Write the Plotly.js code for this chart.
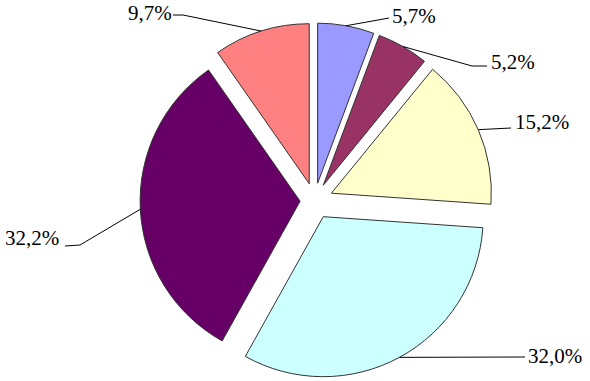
<!DOCTYPE html>
<html><head><meta charset="utf-8">
<script src="https://cdn.plot.ly/plotly-3.0.1.min.js"></script>
<style>html,body{margin:0;padding:0;background:#fff}#chart{width:590px;height:381px}</style>
</head><body><div id="chart"></div>
<script>
// ---- data ----
const categories = ['1', '2', '3', '4', '5', '6'];
const values = [5.7, 5.2, 15.2, 32.0, 32.2, 9.7];
const percentLabels = ['5,7%', '5,2%', '15,2%', '32,0%', '32,2%', '9,7%'];

// ---- styles / layout ----
const colors = ['#9999FF', '#993366', '#FFFFCC', '#CCFFFF', '#660066', '#FF8080'];
const pulls = [0.11, 0.11, 0.115, 0.115, 0.09, 0.11];
const W = 590, H = 381;
const center = {x: 314.5, y: 200.5};
const halfExtent = 178.4;
// label placement (pixels): elbow of leader line, end of leader line, text anchor
const labelPlace = [
  {elbow: [389, 18], end: [389, 18], tx: 390, ty: 16, anchor: 'left'},
  {elbow: [472, 66], end: [487, 66], tx: 489, ty: 62, anchor: 'left'},
  {elbow: [511, 128], end: [511, 128], tx: 513, ty: 122, anchor: 'left'},
  {elbow: [525, 357], end: [525, 357], tx: 526, ty: 356, anchor: 'left'},
  {elbow: [80, 245], end: [65, 246], tx: 61, ty: 238, anchor: 'right'},
  {elbow: [183, 15], end: [173, 15], tx: 174, ty: 13, anchor: 'right'}
];

const px = x => x / W;
const py = y => 1 - y / H;

const domain = {
  x: [px(center.x - halfExtent), px(center.x + halfExtent)],
  y: [py(center.y + halfExtent), py(center.y - halfExtent)]
};
const maxPull = Math.max(...pulls);
const r = halfExtent / (1 + maxPull);
const total = values.reduce((a, b) => a + b, 0);

const shapes = [], annotations = [];
let cum = 0;
values.forEach((v, i) => {
  const th = 2 * Math.PI * (cum + v / 2) / total;
  cum += v;
  const dx = Math.sin(th), dy = -Math.cos(th);
  const ax = center.x + dx * r * (1 + pulls[i]);
  const ay = center.y + dy * r * (1 + pulls[i]);
  const L = labelPlace[i];
  shapes.push({
    type: 'path', xref: 'paper', yref: 'paper',
    path: `M ${px(ax)} ${py(ay)} L ${px(L.elbow[0])} ${py(L.elbow[1])} L ${px(L.end[0])} ${py(L.end[1])}`,
    line: {color: '#000', width: 1}
  });
  annotations.push({
    xref: 'paper', yref: 'paper', x: px(L.tx), y: py(L.ty),
    xanchor: L.anchor, yanchor: 'middle', showarrow: false,
    text: percentLabels[i],
    font: {family: '"Liberation Serif", "Times New Roman", serif', size: 21, color: '#000'}
  });
});

const trace = {
  type: 'pie', labels: categories, values: values, sort: false,
  direction: 'clockwise', rotation: 0, pull: pulls,
  marker: {colors: colors, line: {color: '#333', width: 1}},
  textinfo: 'none', hoverinfo: 'label+percent', domain: domain, showlegend: false
};

Plotly.newPlot('chart', [trace], {
  width: W, height: H, margin: {l: 0, r: 0, t: 0, b: 0},
  paper_bgcolor: '#fff', plot_bgcolor: '#fff', showlegend: false,
  shapes: shapes, annotations: annotations
}, {displayModeBar: false, staticPlot: true});
</script></body></html>
